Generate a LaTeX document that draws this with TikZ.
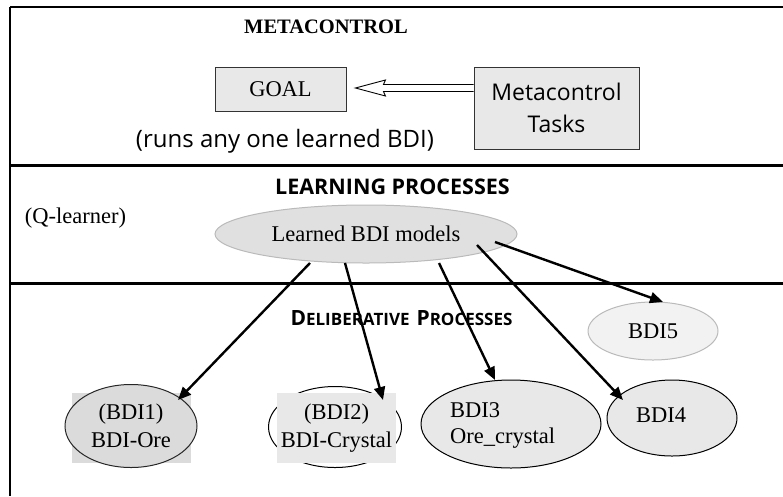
\documentclass[tikz,border=0pt]{standalone}
\usepackage{fontspec}
\setmainfont{Liberation Serif}
\newfontfamily\comic{Open Sans}
\usetikzlibrary{shapes.geometric,arrows.meta,calc}
\definecolor{boxgray}{HTML}{E8E8E8}
\definecolor{darkfill}{HTML}{DBDBDB}
\definecolor{lightfill}{HTML}{F2F2F2}
\definecolor{learnfill}{HTML}{E0E0E0}
\begin{document}
\begin{tikzpicture}[x=1pt,y=-1pt,
  frameline/.style={line width=2.5pt},
  divider/.style={line width=3pt},
  serif/.style={font=\fontsize{22.5}{28}\selectfont},
  comictext/.style={font=\comic\fontsize{23}{32}\selectfont},
  sqbox/.style={rectangle, draw=black!80, fill=boxgray, line width=0.9pt, inner sep=0pt},
  oval/.style={ellipse, inner sep=0pt, line width=1pt},
  conn/.style={line width=2.4pt, -{Triangle[length=13pt,width=11pt]}},
  hollow/.style={line width=0.9pt, fill=white, line join=miter}
]
\useasboundingbox (0,0) rectangle (783,496);
% frame
\draw[frameline] (10,7) -- (783,7);
\draw[frameline] (10,7) -- (10,496);
\draw[divider] (10,165) -- (783,165);
\draw[divider] (10,283) -- (783,283);

% metacontrol section
\node[font=\bfseries\fontsize{20.5}{24}\selectfont] (metatitle) at (326,27) {METACONTROL};
\node[sqbox, serif, minimum width=131pt, minimum height=44pt] (goal) at (280.5,89) {GOAL};
\node[sqbox, comictext, align=center, minimum width=165pt, minimum height=82pt] (tasks) at (556.5,108) {Metacontrol\\Tasks};
\node[font=\comic\fontsize{24}{32}\selectfont] (runs) at (285,141) {(runs any one learned BDI)};
\coordinate (tip) at ($(goal.east)+(9,-1)$);
\draw[hollow] ($(tasks.west|-tip)+(0,-3.5)$) -- ($(tip)+(28,-3.5)$) -- ($(tip)+(30,-8)$) -- (tip)
  -- ($(tip)+(30,8)$) -- ($(tip)+(28,3.5)$) -- ($(tasks.west|-tip)+(0,3.5)$);

% learning section
\node[font=\comic\bfseries\fontsize{21.5}{24}\selectfont] (learntitle) at (392.5,187) {LEARNING PROCESSES};
\node[serif] (qlearner) at (75.5,218) {(Q-learner)};
\node[oval, serif, draw=black!27, fill=learnfill, minimum width=302pt, minimum height=58pt] (learned) at (366,234) {Learned BDI models};

% deliberative section
\node[font=\comic\bfseries] (delibtitle) at (401.5,318)
  {{\fontsize{21}{22}\selectfont D}{\fontsize{17}{18}\selectfont ELIBERATIVE}\hspace{7pt}{\fontsize{21}{22}\selectfont P}{\fontsize{17}{18}\selectfont ROCESSES}};

\node[rectangle, fill=darkfill, minimum width=119pt, minimum height=70pt, inner sep=0pt] (bdi1bg) at (131.5,428) {};
\node[oval, serif, draw=black!85, fill=darkfill, align=center, minimum width=132pt, minimum height=83pt] (bdi1) at (131,426) {(BDI1)\\BDI-Ore};

\node[oval, draw=black, minimum width=133pt, minimum height=81pt] (bdi2e) at (335,427) {};
\node[rectangle, serif, fill=boxgray, align=center, minimum width=119pt, minimum height=70pt, inner sep=0pt] (bdi2) at (336.5,428) {(BDI2)\\BDI-Crystal};

\node[oval, draw=black, fill=boxgray, minimum width=180pt, minimum height=88pt] (bdi3) at (511,424) {};
\node[serif, align=left, anchor=west, inner sep=0pt, font=\fontsize{22.5}{26}\selectfont] (bdi3txt) at (450,425) {BDI3\\Ore\_crystal};

\node[oval, draw=black, fill=boxgray, minimum width=130pt, minimum height=76pt] (bdi4) at (672,418) {};
\node[serif] (bdi4txt) at (661,415) {BDI4};

\node[oval, serif, draw=black!27, fill=lightfill, minimum width=130pt, minimum height=58pt] (bdi5) at (653,331) {BDI5};

% connectors
\draw[conn] ($(learned.center)+(-56,29)$) -- ($(bdi1.center)+(47,-26)$);
\draw[conn] ($(learned.center)+(-21,29)$) -- ($(bdi2e.center)+(48,-27)$);
\draw[conn] ($(learned.center)+(73,29)$) -- ($(bdi3.center)+(-16,-44)$);
\draw[conn] ($(learned.center)+(111,11)$) -- ($(bdi4.center)+(-49,-18)$);
\draw[conn] ($(learned.center)+(129,8)$) -- ($(bdi5.center)+(10,-29)$);
\end{tikzpicture}
\end{document}
